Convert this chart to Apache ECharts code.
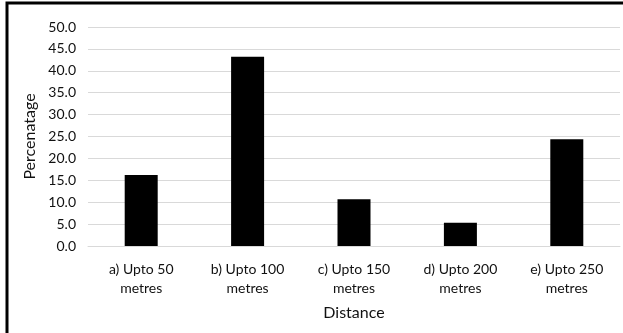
<!DOCTYPE html>
<html><head><meta charset="utf-8">
<script src="https://cdn.jsdelivr.net/npm/echarts@6/dist/echarts.min.js"></script>
<style>html,body{margin:0;padding:0;background:#fff}#c{width:623px;height:333px}</style>
</head><body><div id="c"></div>
<script>
var categories = ["a) Upto 50\nmetres", "b) Upto 100\nmetres", "c) Upto 150\nmetres", "d) Upto 200\nmetres", "e) Upto 250\nmetres"];
var percentages = [16.2, 43.2, 10.7, 5.3, 24.4];
var yTicks = {min: 0, max: 50, interval: 5};
var xTitle = "Distance";
var yTitle = "Percenatage";

var font = "Lato, 'Open Sans', sans-serif";
var chart = echarts.init(document.getElementById('c'), null, {renderer: 'canvas'});
chart.setOption({
  animation: false,
  backgroundColor: '#fff',
  grid: {left: 88, right: 3, top: 27, bottom: 87, containLabel: false},
  graphic: [{type: 'rect', shape: {x: 7, y: 3, width: 700, height: 500}, style: {fill: 'none', stroke: '#000', lineWidth: 3}, silent: true}],
  xAxis: {
    type: 'category', data: categories,
    name: xTitle, nameLocation: 'middle', nameGap: 59,
    nameTextStyle: {fontFamily: font, fontSize: 16, color: '#111'},
    axisLine: {show: true, lineStyle: {color: '#d9d9d9', width: 1}},
    axisTick: {show: false},
    axisLabel: {fontFamily: font, fontSize: 14, color: '#111', margin: 14, lineHeight: 19, interval: 0}
  },
  yAxis: {
    type: 'value', min: yTicks.min, max: yTicks.max, interval: yTicks.interval,
    name: yTitle, nameLocation: 'middle', nameGap: 48, nameRotate: 90,
    nameTextStyle: {fontFamily: font, fontSize: 16, color: '#111'},
    axisLine: {show: false}, axisTick: {show: false},
    splitLine: {lineStyle: {color: '#d9d9d9', width: 1}},
    axisLabel: {fontFamily: font, fontSize: 14, color: '#111', margin: 12, formatter: function(v){return v.toFixed(1);}}
  },
  series: [{type: 'bar', data: percentages, barWidth: 33, itemStyle: {color: '#000'}}]
});
</script></body></html>
